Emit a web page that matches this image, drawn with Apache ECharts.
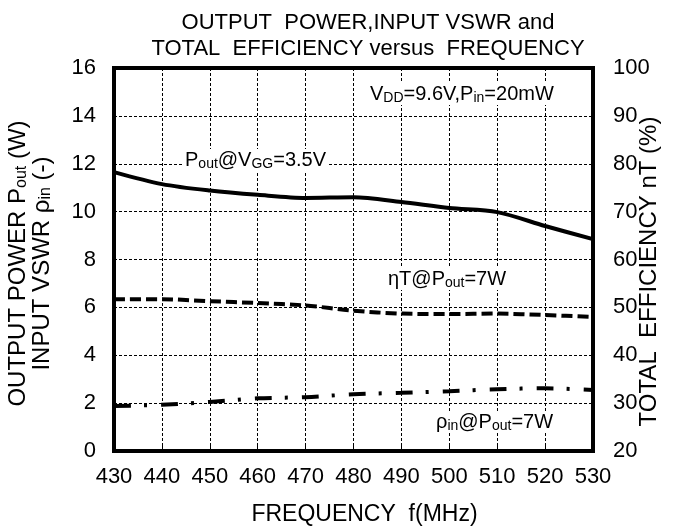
<!DOCTYPE html>
<html>
<head>
<meta charset="utf-8">
<script src="https://cdn.jsdelivr.net/npm/echarts@6/dist/echarts.min.js"></script>
<style>
  html, body { margin: 0; padding: 0; background: #fff; }
  #chart { width: 673px; height: 531px; }
</style>
</head>
<body>
<div id="chart"></div>
<script>
// frequency points (MHz)
const freqs = [430, 440, 450, 460, 470, 480, 490, 500, 510, 520, 530];
// output power Pout (W), left axis
const poutW = [11.65, 11.15, 10.88, 10.7, 10.57, 10.6, 10.4, 10.15, 9.98, 9.4, 8.85];
// total efficiency nT (%), right axis
const effPct = [51.7, 51.7, 51.3, 50.9, 50.4, 49.3, 48.7, 48.6, 48.7, 48.4, 48.0];
// input VSWR rho_in (-), left axis
const vswr = [1.88, 1.93, 2.05, 2.2, 2.25, 2.37, 2.43, 2.5, 2.58, 2.62, 2.55];

const leftTicks = { min: 0, max: 16, interval: 2 };
const rightTicks = { min: 20, max: 100, interval: 10 };

const FONT = 'Liberation Sans';
const pair = (vals) => freqs.map((f, i) => [f, vals[i]]);

// rich styles for text with subscripts
const richOf = (size, sub, lh) => ({
  b: { fontFamily: FONT, fontSize: size, color: '#000', lineHeight: lh },
  s: { fontFamily: FONT, fontSize: sub, color: '#000', lineHeight: lh, verticalAlign: 'bottom', padding: [Math.round(size * 0.4), 0, 0, 0] }
});
const noteRich = richOf(20, 14, 22);
const axisRich = richOf(24, 16, 24);

const chart = echarts.init(document.getElementById('chart'));

const gridDash = { color: '#000', width: 1, type: [3, 2] };

const option = {
  animation: false,
  backgroundColor: '#fff',
  title: {
    text: 'OUTPUT  POWER,INPUT VSWR and\nTOTAL  EFFICIENCY versus  FREQUENCY',
    left: 363,
    top: 5,
    textAlign: 'center',
    textStyle: { fontFamily: FONT, fontSize: 22, fontWeight: 'normal', color: '#000', lineHeight: 26 }
  },
  grid: {
    left: 114, right: 80, top: 68, bottom: 80,
    outerBoundsMode: 'none',
    show: true, borderColor: '#000', borderWidth: 4
  },
  xAxis: {
    type: 'value',
    min: 430, max: 530, interval: 10,
    name: 'FREQUENCY  f(MHz)',
    nameLocation: 'middle',
    nameGap: 52,
    nameMoveOverlap: false,
    nameTextStyle: { fontFamily: FONT, fontSize: 23, color: '#000', padding: [0, 0, 0, 22] },
    axisLine: { show: true, lineStyle: { color: '#000', width: 4 } },
    axisTick: { show: true, inside: true, length: 5, lineStyle: { color: '#000' } },
    axisLabel: { fontFamily: FONT, fontSize: 22, color: '#000', margin: 15 },
    splitLine: { show: true, lineStyle: gridDash }
  },
  yAxis: [
    {
      type: 'value',
      min: leftTicks.min, max: leftTicks.max, interval: leftTicks.interval,
      position: 'left',
      name: '{b|OUTPUT POWER P}{s|out}{b| (W)}\n{b|INPUT VSWR ρ}{s|in}{b| (-)}',
      nameLocation: 'middle',
      nameGap: 60,
      nameMoveOverlap: false,
      nameTextStyle: { rich: axisRich, padding: [0, 8, 0, 0] },
      axisLine: { show: true, lineStyle: { color: '#000', width: 4 } },
      axisTick: { show: false },
      axisLabel: { fontFamily: FONT, fontSize: 22, color: '#000', margin: 18 },
      splitLine: { show: true, lineStyle: gridDash }
    },
    {
      type: 'value',
      min: rightTicks.min, max: rightTicks.max, interval: rightTicks.interval,
      position: 'right',
      name: 'TOTAL  EFFICIENCY nT (%)',
      nameLocation: 'middle',
      nameGap: 44,
      nameMoveOverlap: false,
      nameTextStyle: { fontFamily: FONT, fontSize: 24, lineHeight: 24, color: '#000', padding: [0, 24, 0, 0] },
      axisLine: { show: true, lineStyle: { color: '#000', width: 4 } },
      axisTick: { show: false },
      axisLabel: { fontFamily: FONT, fontSize: 22, color: '#000', margin: 20 },
      splitLine: { show: false }
    }
  ],
  series: [
    {
      name: 'Pout',
      type: 'line',
      yAxisIndex: 0,
      smooth: 0.3,
      symbol: 'none',
      data: pair(poutW),
      lineStyle: { color: '#000', width: 4 }
    },
    {
      name: 'nT',
      type: 'line',
      yAxisIndex: 1,
      smooth: 0.3,
      symbol: 'none',
      data: pair(effPct),
      lineStyle: { color: '#000', width: 4, type: [11, 5] }
    },
    {
      name: 'rho',
      type: 'line',
      yAxisIndex: 0,
      smooth: 0.3,
      symbol: 'none',
      data: pair(vswr),
      lineStyle: { color: '#000', width: 4, type: [17, 13, 3, 14] }
    }
  ],
  graphic: [
    {
      type: 'text', left: 182, top: 149, z: 100,
      style: { text: '{b|P}{s|out}{b|@V}{s|GG}{b|=3.5V}', rich: noteRich, backgroundColor: '#fff', padding: [0, 3] }
    },
    {
      type: 'text', left: 367, top: 83, z: 100,
      style: { text: '{b|V}{s|DD}{b|=9.6V,P}{s|in}{b|=20mW}', rich: noteRich, backgroundColor: '#fff', padding: [0, 3] }
    },
    {
      type: 'text', left: 385, top: 268, z: 100,
      style: { text: '{b|ηT@P}{s|out}{b|=7W}', rich: noteRich, backgroundColor: '#fff', padding: [0, 3] }
    },
    {
      type: 'text', left: 433, top: 411, z: 100,
      style: { text: '{b|ρ}{s|in}{b|@P}{s|out}{b|=7W}', rich: noteRich, backgroundColor: '#fff', padding: [0, 3] }
    }
  ]
};

chart.setOption(option);
</script>
</body>
</html>
